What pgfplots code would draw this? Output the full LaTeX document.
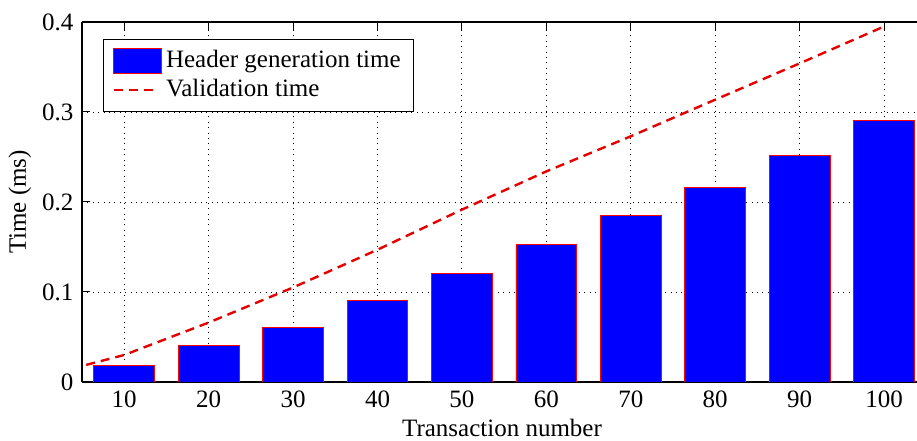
\documentclass[border=0pt]{standalone}
\usepackage{fontspec}
\setmainfont{Liberation Serif}
\usepackage{pgfplots}
\pgfplotsset{compat=1.18}
\pgfplotsset{
    barlegend/.style={legend image code/.code={\draw[#1] (0pt,-6.25pt) rectangle (24pt,6.25pt);}},
    linelegend/.style={legend image code/.code={\draw[#1] (0pt,0pt) -- (22pt,0pt);}},
}

\begin{document}
\fontsize{12.5}{15}\selectfont
\begin{tikzpicture}
\begin{axis}[
    scale only axis,
    width=417.5pt, height=180pt,
    xmin=5, xmax=103.9, ymin=0, ymax=0.4,
    axis x line*=box, axis y line*=left,
    xtick={10,20,...,100},
    ytick={0,0.1,0.2,0.3,0.4},
    yticklabel style={/pgf/number format/fixed, /pgf/number format/precision=1},
    /pgf/number format/assume math mode=true,
    tick align=inside, major tick length=4pt,
    tick style={black, line width=0.5pt},
    axis line style={black, line width=0.6pt},
    grid=major,
    major grid style={black, line width=0.45pt, dash pattern=on 0.5pt off 2.2pt},
    xlabel={Transaction number}, ylabel={Time (ms)},
    xlabel style={at={(axis description cs:0.503,-0.128)}, anchor=center},
    ylabel style={at={(axis description cs:-0.0743,0.5)}, anchor=center},
    legend style={at={(axis description cs:0.0251,0.9528)}, anchor=north west,
        draw=black, line width=0.5pt, fill=white,
        inner xsep=4.5pt, inner ysep=3.5pt, row sep=0pt,
        cells={anchor=west}},
    legend cell align=left,
]
\addplot[ybar, bar width=7.2, fill=blue, draw=red, line width=0.4pt, barlegend]
coordinates {
    (10,0.0185) (20,0.0405) (30,0.0605) (40,0.091) (50,0.121)
    (60,0.153) (70,0.1855) (80,0.216) (90,0.252) (100,0.2905)
};
\addlegendentry{Header generation time}
\addplot[red!90!black, line width=1.2pt, dash pattern=on 4.5pt off 3pt, linelegend]
coordinates {
    (5.5,0.019) (10,0.030) (20,0.066) (30,0.105) (40,0.147) (50,0.1915)
    (60,0.234) (70,0.273) (80,0.3137) (90,0.354) (100,0.395)
};
\addlegendentry{Validation time}
\end{axis}
\pgfresetboundingbox
\path ([xshift=-41pt,yshift=-29.5pt]current axis.south west)
    rectangle ([yshift=11pt]current axis.north east);
\end{tikzpicture}
\end{document}
